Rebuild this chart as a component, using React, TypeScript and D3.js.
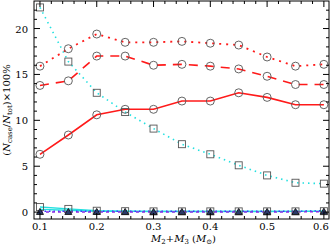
import React, { useEffect, useRef } from "react";
import * as d3 from "d3";

const masses = [0.1, 0.15, 0.2, 0.25, 0.3, 0.35, 0.4, 0.45, 0.5, 0.55, 0.6];
const redDotted = [15.9, 17.8, 19.4, 18.5, 18.5, 18.6, 18.4, 18.2, 16.9, 15.9, 16.1];
const redDashed = [13.8, 14.3, 17.0, 17.0, 16.0, 16.1, 15.9, 15.6, 14.8, 13.9, 13.9];
const redSolid = [6.3, 8.4, 10.6, 11.2, 11.2, 12.1, 12.1, 13.0, 12.5, 11.7, 11.7];
const cyanDotted = [22.3, 16.4, 13.0, 10.9, 9.1, 7.4, 6.3, 5.1, 4.0, 3.2, 3.1];
const cyanSolid = [0.55, 0.35, 0.15, 0.1, 0.08, 0.08, 0.08, 0.08, 0.08, 0.08, 0.1];
const cyanSolid2 = [0.3, 0.2, 0.1, 0.08, 0.06, 0.06, 0.06, 0.06, 0.06, 0.08, 0.08];
const purple = [0.02, 0.02, 0.02, 0.02, 0.02, 0.02, 0.02, 0.02, 0.02, 0.02, 0.05];
const blueDotted = [0.1, 0.1, 0.1, 0.1, 0.1, 0.1, 0.1, 0.1, 0.1, 0.1, 0.15];
const xTicks = [0.1, 0.2, 0.3, 0.4, 0.5, 0.6];
const yTicks = [0, 5, 10, 15, 20];

export default function App() {
  const svgRef = useRef<SVGSVGElement>(null);
  const width = 330, height = 246;
  const m = { left: 34, right: 1, top: 1, bottom: 27 };

  useEffect(() => {
    const svg = d3.select(svgRef.current);
    svg.selectAll("*").remove();
    const x = d3.scaleLinear().domain([0.0895, 0.609]).range([m.left, width - m.right]);
    const y = d3.scaleLinear().domain([-0.75, 23.0]).range([height - m.bottom, m.top]);
    const font = "'DejaVu Serif', serif";

    const line = (vals: number[]) =>
      d3.line<number>().x((d, i) => x(masses[i])).y(d => y(d))(vals);

    const g = svg.append("g");

    // series
    const series = [
      { v: cyanDotted, c: "#22e0e0", w: 1.6, dash: "1.5,4", mk: "square" },
      { v: redDotted, c: "#ff1a1a", w: 1.8, dash: "2,5", mk: "circle" },
      { v: redDashed, c: "#ff1a1a", w: 1.6, dash: "9,7", mk: "circle" },
      { v: redSolid, c: "#ff1a1a", w: 1.6, dash: null, mk: "circle" },
      { v: cyanSolid, c: "#22e0e0", w: 1.4, dash: null, mk: "square" },
      { v: cyanSolid2, c: "#22e0e0", w: 1.4, dash: null, mk: "none" },
      { v: blueDotted, c: "#3333ff", w: 1.4, dash: "1.5,3", mk: "none" },
      { v: purple, c: "#8a2be2", w: 1.4, dash: "3,3", mk: "tri" },
    ];

    series.forEach(s => {
      g.append("path")
        .attr("d", line(s.v))
        .attr("fill", "none")
        .attr("stroke", s.c)
        .attr("stroke-width", s.w)
        .attr("stroke-dasharray", s.dash);
    });

    series.forEach(s => {
      s.v.forEach((d, i) => {
        const cx = x(masses[i]), cy = y(d);
        if (s.mk === "circle") {
          g.append("circle").attr("cx", cx).attr("cy", cy).attr("r", 4)
            .attr("fill", "none").attr("stroke", "#555").attr("stroke-width", 0.9);
        } else if (s.mk === "square") {
          g.append("rect").attr("x", cx - 3.5).attr("y", cy - 3.5).attr("width", 7).attr("height", 7)
            .attr("fill", "none").attr("stroke", "#555").attr("stroke-width", 0.9);
        } else if (s.mk === "tri") {
          g.append("path")
            .attr("d", `M${cx},${cy - 3.5}L${cx + 3.5},${cy + 2.5}L${cx - 3.5},${cy + 2.5}Z`)
            .attr("fill", "#2a3a6a").attr("stroke", "#111").attr("stroke-width", 0.9);
        }
      });
    });

    // frame
    const x0 = m.left, x1 = width - m.right, y0 = m.top, y1 = height - m.bottom;
    g.append("rect").attr("x", x0).attr("y", y0).attr("width", x1 - x0).attr("height", y1 - y0)
      .attr("fill", "none").attr("stroke", "#000").attr("stroke-width", 1);

    // x ticks
    d3.range(0.1, 0.6001, 0.02).forEach(t => {
      const major = Math.abs(Math.round(t * 10) - t * 10) < 1e-6;
      const len = major ? 6 : 3;
      g.append("line").attr("x1", x(t)).attr("x2", x(t)).attr("y1", y1).attr("y2", y1 - len).attr("stroke", "#000");
      g.append("line").attr("x1", x(t)).attr("x2", x(t)).attr("y1", y0).attr("y2", y0 + len).attr("stroke", "#000");
    });
    // y ticks
    d3.range(0, 23, 1).forEach(t => {
      const len = t % 5 === 0 ? 6 : 3;
      g.append("line").attr("x1", x0).attr("x2", x0 + len).attr("y1", y(t)).attr("y2", y(t)).attr("stroke", "#000");
      g.append("line").attr("x1", x1).attr("x2", x1 - len).attr("y1", y(t)).attr("y2", y(t)).attr("stroke", "#000");
    });

    xTicks.forEach(t => {
      g.append("text").attr("x", x(t)).attr("y", y1 + 11).attr("text-anchor", t === 0.6 ? "end" : "middle")
        .attr("dx", t === 0.6 ? 5 : 0)
        .attr("font-family", font).attr("font-size", 10).text(t.toFixed(1));
    });
    yTicks.forEach(t => {
      g.append("text").attr("x", x0 - 6).attr("y", y(t) + 4).attr("text-anchor", "end")
        .attr("font-family", font).attr("font-size", 10).text(t);
    });

    // x label
    const xl = g.append("text").attr("x", (x0 + x1) / 2 + 2).attr("y", 242).attr("text-anchor", "middle")
      .attr("font-family", font).attr("font-size", 10);
    xl.append("tspan").attr("font-style", "italic").text("M");
    xl.append("tspan").attr("font-size", 7).attr("dy", 2).text("2");
    xl.append("tspan").attr("dy", -2).text("+");
    xl.append("tspan").attr("font-style", "italic").text("M");
    xl.append("tspan").attr("font-size", 7).attr("dy", 2).text("3");
    xl.append("tspan").attr("dy", -2).text(" (");
    xl.append("tspan").attr("font-style", "italic").text("M");
    xl.append("tspan").attr("font-size", 7).attr("dy", 2).text("⊙");
    xl.append("tspan").attr("dy", -2).text(")");

    // y label
    const yl = g.append("text").attr("transform", `translate(10,${(y0 + y1) / 2}) rotate(-90)`)
      .attr("text-anchor", "middle").attr("font-family", font).attr("font-size", 10);
    yl.append("tspan").text("(");
    yl.append("tspan").attr("font-style", "italic").text("N");
    yl.append("tspan").attr("font-size", 7).attr("dy", 2).text("case");
    yl.append("tspan").attr("dy", -2).text("/");
    yl.append("tspan").attr("font-style", "italic").text("N");
    yl.append("tspan").attr("font-size", 7).attr("dy", 2).text("tot");
    yl.append("tspan").attr("dy", -2).text(")×100%");
  }, []);

  return (
    <svg ref={svgRef} width={width} height={height}
      style={{ position: "absolute", left: 0, top: 0, background: "#fff" }} />
  );
}
